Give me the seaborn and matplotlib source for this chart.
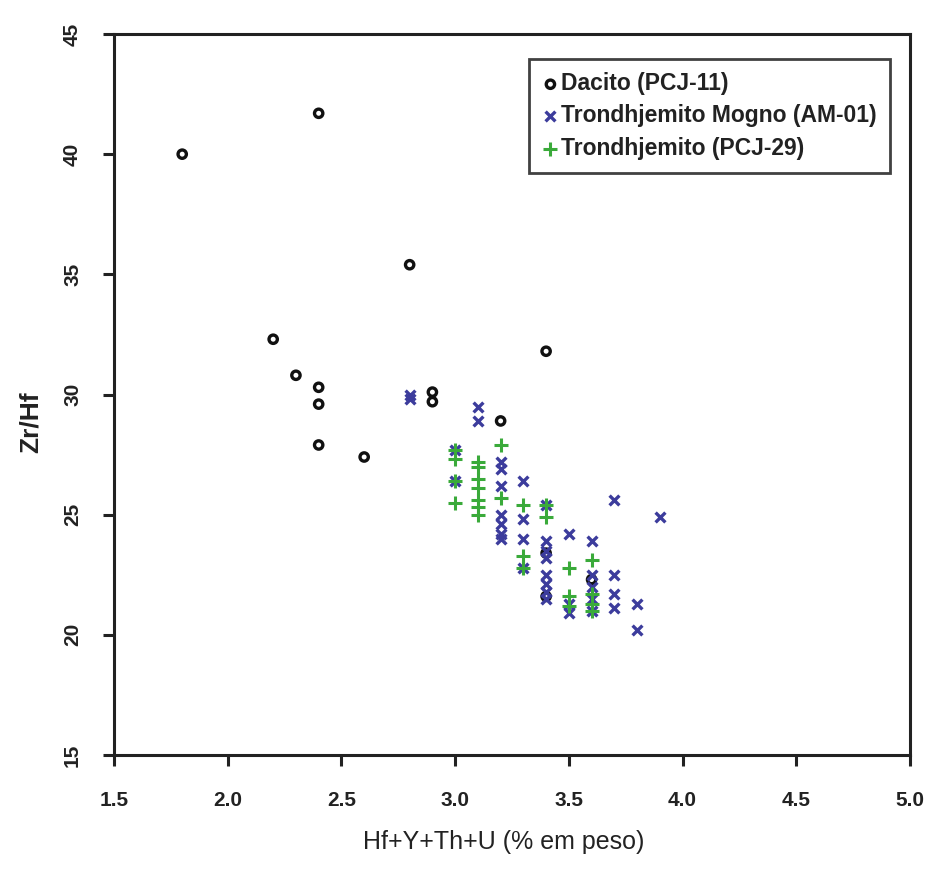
import matplotlib
matplotlib.use("Agg")
import matplotlib.pyplot as plt
import seaborn as sns
import pandas as pd

# Dacito (PCJ-11)
dac_x = [1.8, 2.4, 2.8, 2.2, 2.3, 2.4, 2.4, 2.4, 2.6, 2.9, 2.9, 3.4, 3.2, 3.4, 3.4, 3.6]
dac_y = [40.0, 41.7, 35.4, 32.3, 30.8, 30.3, 29.6, 27.9, 27.4, 30.1, 29.7, 31.8, 28.9, 23.4, 21.6, 22.3]

# Trondhjemito Mogno (AM-01)
mog_x = [2.8, 2.8, 3.0, 3.0, 3.1, 3.1, 3.2, 3.2, 3.2, 3.2, 3.2, 3.2, 3.2,
         3.3, 3.3, 3.3, 3.3, 3.4, 3.4, 3.4, 3.4, 3.4, 3.4, 3.4, 3.4,
         3.5, 3.5, 3.5, 3.6, 3.6, 3.6, 3.6, 3.6, 3.7, 3.7, 3.7, 3.7, 3.8, 3.8, 3.9]
mog_y = [29.8, 30.0, 27.7, 26.4, 29.5, 28.9, 27.2, 26.9, 26.2, 25.0, 24.6, 24.2, 24.0,
         26.4, 24.8, 24.0, 22.8, 25.4, 23.9, 23.5, 23.2, 22.5, 22.1, 21.8, 21.5,
         24.2, 20.9, 21.3, 23.9, 22.5, 22.0, 21.5, 21.0, 25.6, 22.5, 21.7, 21.1, 21.3, 20.2, 24.9]

# Trondhjemito (PCJ-29)
pcj_x = [3.0, 3.0, 3.0, 3.0, 3.1, 3.1, 3.1, 3.1, 3.1, 3.1, 3.1, 3.2, 3.2,
         3.3, 3.3, 3.3, 3.4, 3.4, 3.5, 3.5, 3.5, 3.6, 3.6, 3.6, 3.6]
pcj_y = [27.7, 27.3, 26.4, 25.5, 27.2, 27.0, 26.5, 26.1, 25.6, 25.3, 25.0, 27.9, 25.7,
         25.4, 23.3, 22.8, 25.4, 24.9, 22.8, 21.6, 21.2, 23.1, 21.7, 21.3, 21.0]

groups = ["Dacito (PCJ-11)", "Trondhjemito Mogno (AM-01)", "Trondhjemito (PCJ-29)"]
x_ticks = [1.5, 2.0, 2.5, 3.0, 3.5, 4.0, 4.5, 5.0]
y_ticks = [15, 20, 25, 30, 35, 40, 45]

df = pd.concat([
    pd.DataFrame({"x": dac_x, "y": dac_y, "g": groups[0]}),
    pd.DataFrame({"x": mog_x, "y": mog_y, "g": groups[1]}),
    pd.DataFrame({"x": pcj_x, "y": pcj_y, "g": groups[2]}),
])

sns.set_style("white")
plt.rcParams["font.family"] = ["Liberation Sans", "DejaVu Sans"]

fig = plt.figure(figsize=(9.32, 8.76), dpi=100)
ax = fig.add_axes([0.1223, 0.1381, 0.8541, 0.8231])

styles = {
    groups[0]: dict(marker="o", s=36, facecolors="none", edgecolors="#111111", linewidths=2.4),
    groups[1]: dict(marker="x", s=50, color="#3c3c9c", linewidths=2.4),
    groups[2]: dict(marker="+", s=110, color="#3aaa3a", linewidths=2.2),
}
for g in groups:
    sub = df[df["g"] == g]
    sns.scatterplot(data=sub, x="x", y="y", ax=ax, label=g, **styles[g])

ax.set_xlim(1.5, 5.0)
ax.set_ylim(15, 45)
ax.set_xticks(x_ticks)
ax.set_xticklabels([f"{v:.1f}" for v in x_ticks])
ax.set_yticks(y_ticks)
ax.set_yticklabels([str(v) for v in y_ticks], rotation=90, va="center")

for sp in ax.spines.values():
    sp.set_visible(True)
    sp.set_color("#222222")
    sp.set_linewidth(2.2)

ax.tick_params(axis="both", direction="out", length=8, width=2.2, color="#222222",
               labelsize=15, bottom=True, left=True, top=False, right=False)
ax.tick_params(axis="x", pad=18)
ax.tick_params(axis="y", pad=15)
for lab in ax.get_xticklabels() + ax.get_yticklabels():
    lab.set_fontweight("bold")
    lab.set_color("#222222")

ax.set_xlabel("Hf+Y+Th+U (% em peso)", fontsize=18, color="#222222")
ax.set_ylabel("Zr/Hf", fontsize=19, fontweight="bold", color="#222222")
ax.xaxis.set_label_coords(0.489, -0.104)
ax.yaxis.set_label_coords(-0.09, 0.462)

leg = ax.legend(loc="upper right", bbox_to_anchor=(0.975, 0.966), frameon=True,
                fancybox=False, handletextpad=0.1, handlelength=0.7, borderpad=0.6,
                labelspacing=0.4, prop={"weight": "bold", "size": 16.5}, borderaxespad=0)
leg.get_frame().set_edgecolor("#111111")
leg.get_frame().set_linewidth(2.0)
for t in leg.get_texts():
    t.set_color("#222222")

fig.savefig("out.png", dpi=100, facecolor="white")
